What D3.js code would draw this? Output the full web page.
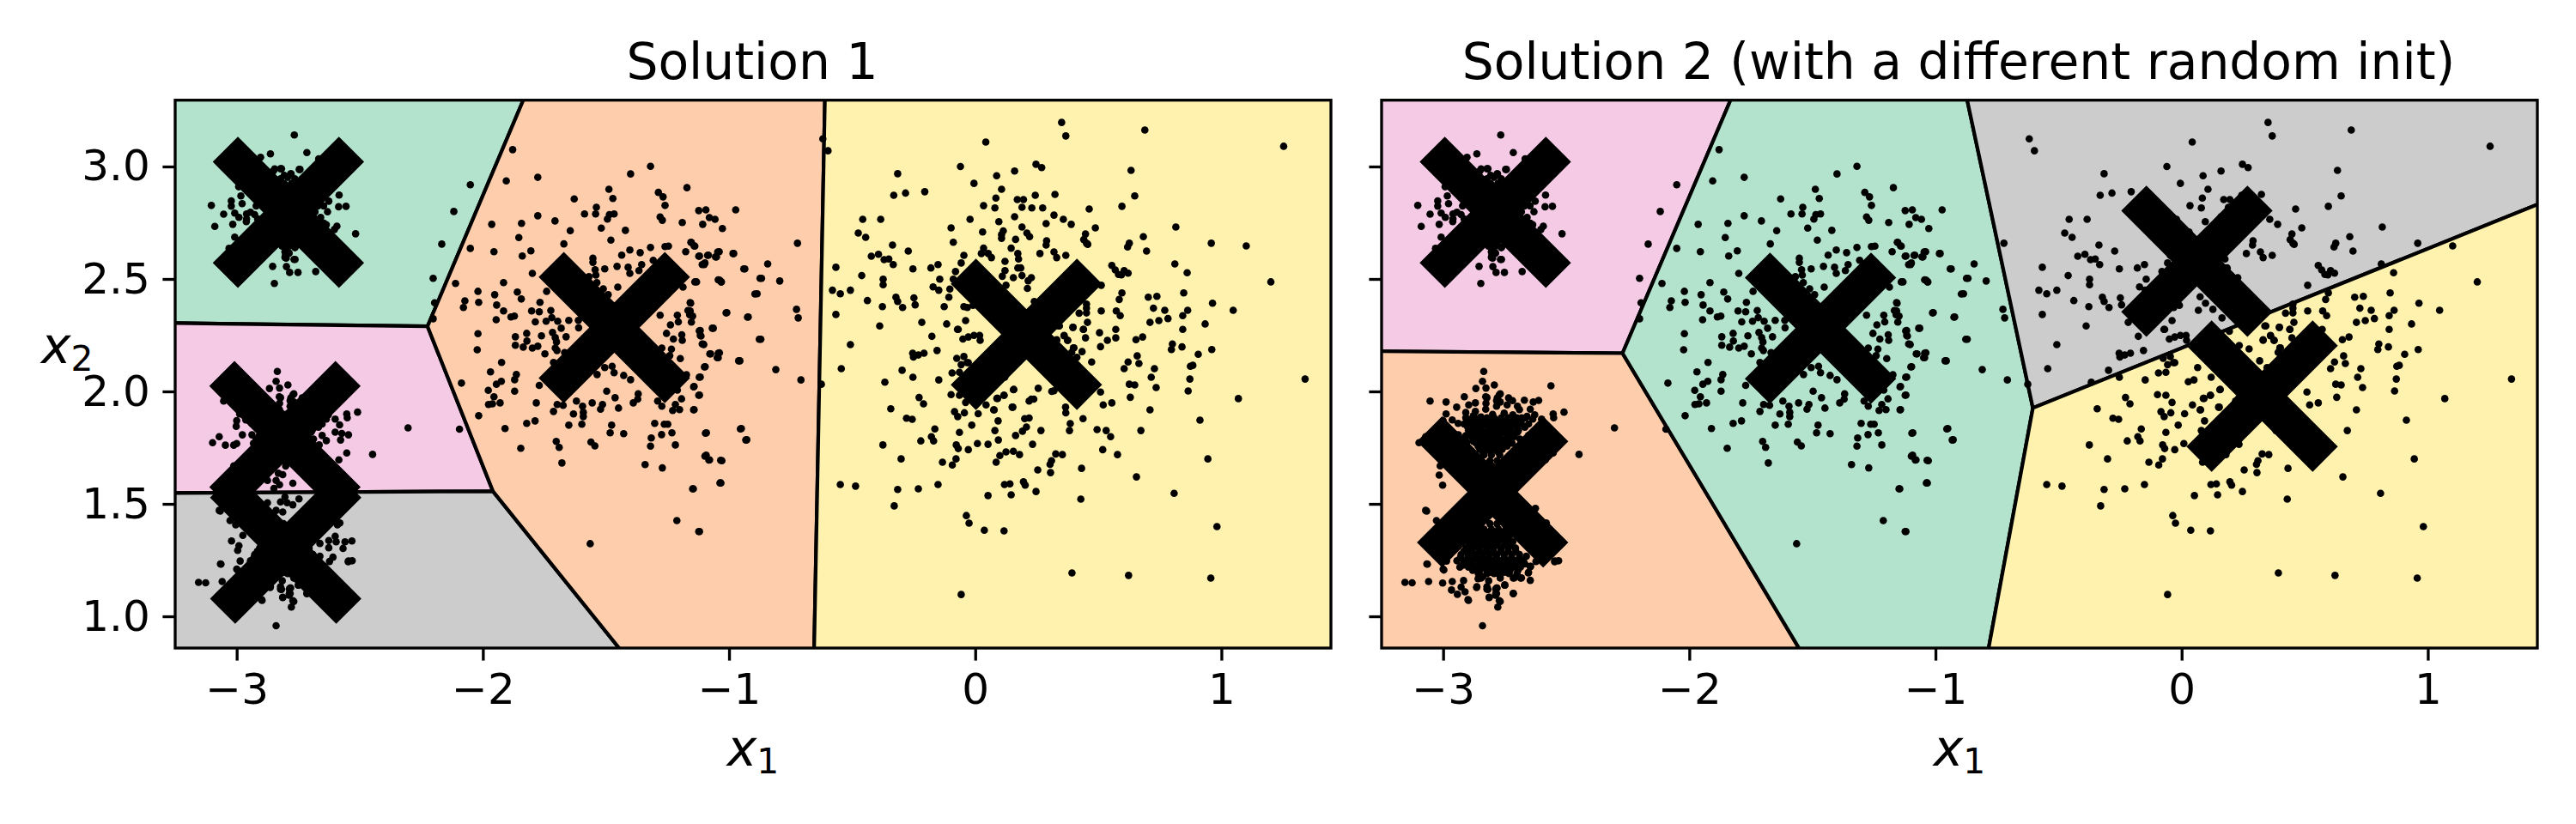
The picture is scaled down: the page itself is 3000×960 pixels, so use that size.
<!DOCTYPE html>
<html><head><meta charset="utf-8">
<script src="https://cdn.jsdelivr.net/npm/d3@7"></script>
<style>html,body{margin:0;padding:0;background:#fff}svg{display:block}text{font-family:"DejaVu Sans";fill:#000}</style>
</head><body><svg id="c" width="3000" height="960"></svg>
<script>
const xDomain=[-3.25,1.445], yDomain=[0.859,3.295];
const xTicks=[-3,-2,-1,0,1], yTicks=[1,1.5,2,2.5,3];
const titles=["Solution 1","Solution 2 (with a different random init)"];
const pastel=["#b3e2cd","#fdcdac","#f4cae4","#cccccc","#fff2ae"];
const centroids1=[[-2.790,2.796],[-2.804,1.799],[-2.801,1.303],[-1.466,2.284],[0.208,2.254]];
const colors1=[0,2,3,1,4];
const centroids2=[[-2.788,2.796],[-2.799,1.553],[-1.467,2.281],[0.062,2.579],[0.327,1.979]];
const colors2=[2,1,0,3,4];

const clusterRight=[[.351,3.196],[.368,3.136],[.689,3.162],[1.253,3.090],[.043,3.109],[-.060,3.000],[-.315,2.968],[.087,2.959],[.160,2.980],[.247,3.010],[.270,2.995],[.633,2.983],[-.005,2.925],[.107,2.899],[-.331,2.872],[-.283,2.882],[-.205,2.888],[.084,2.860],[.171,2.853],[.196,2.853],[.244,2.872],[.324,2.876],[.648,2.869],[.034,2.826],[.080,2.816],[.190,2.819],[.230,2.816],[.274,2.816],[.463,2.811],[.596,2.823],[-.457,2.765],[-.384,2.765],[-.021,2.765],[.096,2.755],[.160,2.777],[.288,2.746],[.320,2.784],[.358,2.765],[.390,2.743],[.488,2.727],[-.098,2.727],[.190,2.731],[.815,2.731],[-.475,2.704],[-.445,2.685],[.030,2.709],[.114,2.714],[.107,2.697],[.107,2.681],[.221,2.688],[.210,2.704],[.448,2.700],[.683,2.688],[-.089,2.663],[.164,2.676],[.441,2.675],[.457,2.654],[.290,2.670],[.288,2.651],[.452,2.659],[.626,2.659],[.619,2.642],[.959,2.659],[1.101,2.647],[-.336,2.651],[-.272,2.624],[.146,2.637],[.034,2.637],[.025,2.613],[.053,2.613],[.066,2.595],[.173,2.613],[.176,2.589],[.263,2.613],[.320,2.620],[.331,2.595],[.368,2.605],[.696,2.624],[-.422,2.601],[-.393,2.610],[-.370,2.586],[-.351,2.589],[-.333,2.564],[-.046,2.605],[-.057,2.571],[.121,2.578],[.185,2.549],[.173,2.549],[.555,2.560],[.569,2.540],[.582,2.520],[.605,2.537],[.594,2.518],[.621,2.526],[.811,2.567],[.861,2.528],[-.566,2.552],[-.253,2.545],[-.180,2.549],[-.151,2.564],[-.080,2.533],[.121,2.537],[.190,2.515],[.228,2.506],[.215,2.492],[.212,2.458],[.110,2.512],[.155,2.506],[-.461,2.515],[-.374,2.499],[-.374,2.474],[-.144,2.499],[-.089,2.499],[.512,2.472],[1.201,2.487],[-.171,2.465],[-.148,2.450],[-.103,2.455],[-.580,2.450],[-.548,2.434],[-.507,2.450],[.125,2.472],[.596,2.438],[.703,2.419],[.738,2.423],[.847,2.438],[-.322,2.419],[-.315,2.400],[-.249,2.416],[-.244,2.385],[-.438,2.404],[-.107,2.419],[.585,2.409],[.964,2.392],[.240,2.400],[-.377,2.377],[-.295,2.373],[-.126,2.377],[-.046,2.377],[-.032,2.373],[-.009,2.383],[.452,2.388],[.452,2.370],[.452,2.349],[.422,2.348],[.512,2.358],[.573,2.358],[.589,2.337],[.724,2.370],[.770,2.361],[.863,2.361],[.843,2.337],[1.048,2.361],[-.566,2.342],[.746,2.315],[.783,2.324],[.710,2.307],[-.217,2.307],[-.116,2.300],[-.039,2.315],[-.388,2.291],[-.069,2.276],[.456,2.307],[.934,2.300],[.843,2.276],[.440,2.276],[.397,2.285],[.338,2.291],[.571,2.276],[.505,2.261],[-.176,2.245],[-.050,2.233],[-.028,2.242],[-.005,2.249],[.018,2.249],[.020,2.227],[.448,2.238],[.571,2.238],[.537,2.227],[.653,2.230],[.680,2.242],[.331,2.230],[.361,2.249],[.375,2.227],[-.507,2.208],[.801,2.211],[.797,2.186],[.840,2.198],[.509,2.199],[.399,2.194],[.961,2.186],[.434,2.177],[.906,2.165],[-.254,2.170],[-.251,2.153],[-.231,2.162],[-.208,2.170],[-.155,2.182],[-.075,2.147],[-.046,2.155],[-.028,2.128],[-.057,2.119],[.413,2.152],[.658,2.158],[.621,2.131],[.665,2.124],[.473,2.131],[-.544,2.101],[-.297,2.094],[-.094,2.082],[-.064,2.085],[.605,2.101],[.728,2.101],[.884,2.116],[.874,2.112],[-.253,2.063],[-.148,2.051],[.715,2.063],[.872,2.055],[1.340,2.055],[-.367,2.041],[-.625,2.032],[.626,2.032],[.648,2.029],[.735,2.017],[.157,2.009],[-.098,1.986],[-.064,1.983],[.117,1.983],[.256,2.014],[.311,2.000],[.320,2.003],[.509,1.997],[.865,2.002],[.630,1.974],[-.228,1.973],[-.039,1.951],[.091,1.969],[.219,1.957],[.228,1.966],[.238,1.966],[.044,1.940],[-.210,1.945],[.520,1.940],[.555,1.949],[1.069,1.968],[.367,1.930],[.368,1.905],[.153,1.930],[.077,1.918],[-.343,1.923],[.710,1.918],[-.084,1.910],[-.044,1.905],[-.071,1.888],[.012,1.901],[-.279,1.881],[-.256,1.876],[.219,1.882],[.201,1.879],[.438,1.879],[.093,1.869],[.913,1.872],[.386,1.857],[-.014,1.850],[.208,1.842],[-.164,1.833],[.080,1.826],[.267,1.826],[.192,1.823],[.383,1.826],[.495,1.830],[.532,1.826],[.673,1.826],[-.064,1.818],[.164,1.804],[.550,1.799],[-.221,1.780],[-.178,1.799],[-.169,1.780],[.094,1.784],[-.375,1.762],[-.077,1.762],[-.069,1.746],[-.028,1.741],[.009,1.768],[.052,1.765],[.233,1.765],[.518,1.741],[.578,1.719],[.125,1.731],[.155,1.734],[.180,1.719],[.100,1.715],[.327,1.722],[.354,1.719],[-.301,1.700],[-.133,1.685],[-.093,1.673],[-.078,1.700],[.085,1.685],[.310,1.692],[.304,1.676],[.945,1.700],[.254,1.651],[.306,1.639],[.432,1.658],[.655,1.620],[-.548,1.586],[-.486,1.579],[-.315,1.564],[-.231,1.567],[-.151,1.586],[.119,1.586],[.141,1.589],[.196,1.598],[.203,1.583],[.247,1.555],[.808,1.547],[.052,1.537],[.146,1.540],[.429,1.521],[-.329,1.491],[-.036,1.448],[-.025,1.414],[.037,1.383],[.117,1.380],[.982,1.399],[.393,1.193],[.623,1.182],[.957,1.170],[-.057,1.097],[-.619,3.123],[-.598,3.070],
[.194,2.267],[.342,2.291],[.397,2.285],[.439,2.276],[.331,2.227],[.361,2.247],[.376,2.227],[.401,2.194],[.392,2.174],[.274,2.189],[.234,2.204],[.317,2.136],[.347,2.106],[.120,2.063],[.155,2.008],[.150,1.93],[.088,1.969],[.117,1.983],[.075,1.918],[.065,2.106],[.050,2.051],[.027,2.043],[-.033,2.128],[.075,2.421],[.097,2.392],[.127,2.365],[.068,2.361],[.164,2.327],[-.072,2.276]];

const clusterMiddle=[[-1.171,2.906],[-1.123,2.804],[-1.094,2.807],[-.973,2.807],[-1.080,2.773],[-1.057,2.765],[-1.107,2.743],[-1.027,2.724],[-.722,2.659],[-1.155,2.663],[-1.142,2.647],[-.984,2.613],[-1.123,2.601],[-1.087,2.605],[-1.046,2.620],[-1.055,2.598],[-1.098,2.571],[-1.109,2.564],[-.843,2.567],[-.940,2.545],[-.874,2.503],[-.794,2.491],[-1.139,2.487],[-1.044,2.496],[-1.032,2.487],[-.895,2.433],[-1.158,2.395],[-.726,2.365],[-.719,2.327],[-1.012,2.349],[-.925,2.330],[-1.158,2.358],[-1.160,2.341],[-1.153,2.308],[-1.068,2.281],[-1.121,2.269],[-1.117,2.249],[-.877,2.232],[-1.109,2.211],[-1.103,2.208],[-1.078,2.167],[-1.044,2.170],[-1.048,2.150],[-.961,2.136],[-1.100,2.109],[-.810,2.097],[-1.121,2.063],[-.708,2.051],[-1.144,2.020],[-1.123,1.983],[-1.144,1.918],[-.954,1.833],[-1.096,1.814],[-.932,1.784],[-1.098,1.712],[-1.082,1.695],[-1.034,1.694],[-1.037,1.593],[-1.148,1.567],[-1.123,1.377],
[-1.879,3.075],[-1.905,2.936],[-1.777,2.952],[-1.319,3.001],[-1.400,2.967],[-1.488,2.899],[-1.629,2.856],[-1.472,2.858],[-1.287,2.885],[-1.268,2.865],[-1.260,2.827],[-1.539,2.819],[-1.587,2.789],[-1.542,2.789],[-1.467,2.789],[-1.486,2.786],[-1.494,2.766],[-1.777,2.781],[-1.964,2.743],[-1.843,2.747],[-1.707,2.758],[-1.280,2.776],[-1.271,2.761],[-1.190,2.751],[-1.519,2.726],[-1.645,2.715],[-1.421,2.716],[-1.854,2.684],[-1.480,2.673],[-1.671,2.656],[-1.153,2.662],[-1.139,2.646],[-2.051,2.636],[-1.955,2.621],[-1.805,2.625],[-1.840,2.602],[-1.436,2.606],[-1.403,2.629],[-1.361,2.617],[-1.319,2.640],[-1.260,2.644],[-1.246,2.646],[-1.176,2.621],[-1.120,2.602],[-1.084,2.606],[-1.040,2.621],[-1.051,2.598],[-.981,2.613],[-1.553,2.592],[-1.553,2.574],[-1.544,2.541],[-1.505,2.545],[-1.455,2.556],[-1.410,2.552],[-1.403,2.525],[-1.366,2.537],[-1.355,2.564],[-1.308,2.583],[-1.101,2.564],[-.936,2.545],[-.868,2.503],[-1.799,2.525],[-1.569,2.510],[-1.541,2.517],[-1.537,2.484],[-1.132,2.487],[-1.039,2.495],[-1.031,2.487],[-1.916,2.484],[-2.111,2.480],[-2.020,2.445],[-1.860,2.442],[-1.952,2.430],[-1.844,2.411],[-1.741,2.445],[-1.452,2.464],[-1.511,2.456],[-1.491,2.430],[-1.187,2.464],[-.886,2.434],[-2.073,2.403],[-2.017,2.396],[-2.079,2.373],[-1.944,2.384],[-1.768,2.396],[-1.156,2.392],[-1.167,2.360],[-1.148,2.335],[-1.916,2.358],[-1.886,2.331],[-1.872,2.335],[-1.802,2.358],[-1.771,2.354],[-1.724,2.360],[-1.946,2.319],[-1.009,2.350],[-.922,2.331],[-1.787,2.309],[-1.743,2.312],[-1.720,2.328],[-1.696,2.312],[-1.651,2.316],[-1.612,2.316],[-1.280,2.339],[-1.210,2.339],[-1.238,2.296],[-1.206,2.309],[-1.682,2.281],[-1.611,2.283],[-1.254,2.258],[-1.064,2.281],[-1.117,2.271],[-1.114,2.246],[-2.020,2.257],[-1.822,2.258],[-1.762,2.247],[-1.717,2.262],[-1.662,2.243],[-1.706,2.239],[-1.701,2.220],[-1.868,2.243],[-1.226,2.233],[-1.192,2.252],[-1.190,2.227],[-.871,2.232],[-1.868,2.205],[-1.821,2.224],[-1.836,2.197],[-1.799,2.193],[-1.777,2.201],[-1.706,2.193],[-1.699,2.182],[-2.023,2.185],[-1.748,2.167],[-1.668,2.173],[-1.273,2.193],[-1.234,2.188],[-1.104,2.210],[-1.075,2.167],[-1.039,2.172],[-1.044,2.150],[-1.241,2.159],[-1.198,2.146],[-.956,2.136],[-1.924,2.129],[-1.713,2.129],[-1.097,2.110],[-1.969,2.087],[-1.505,2.106],[-1.475,2.112],[-1.467,2.083],[-1.428,2.071],[-1.400,2.052],[-1.536,2.075],[-1.864,2.075],[-1.871,2.052],[-1.925,2.045],[-1.945,2.032],[-2.087,2.037],[-1.117,2.064],[-1.173,2.074],[-1.771,2.027],[-1.142,2.022],[-1.978,2.005],[-1.871,2.001],[-1.497,2.001],[-1.210,2.006],[-1.120,1.984],[-1.955,1.976],[-1.977,1.942],[-1.961,1.945],[-1.930,1.949],[-1.369,1.989],[-1.371,1.966],[-1.463,1.972],[-1.620,1.957],[-1.389,1.949],[-1.290,1.957],[-1.193,1.967],[-1.783,1.949],[-1.698,1.942],[-1.674,1.938],[-1.595,1.934],[-1.556,1.949],[-1.514,1.942],[-1.522,1.921],[-1.449,1.926],[-1.273,1.934],[-1.218,1.942],[-1.713,1.911],[-1.632,1.900],[-1.592,1.907],[-1.592,1.888],[-1.229,1.915],[-1.201,1.919],[-1.142,1.919],[-2.017,1.892],[-1.910,1.835],[-1.822,1.858],[-1.788,1.869],[-1.651,1.850],[-1.598,1.854],[-1.477,1.850],[-1.302,1.858],[-1.263,1.854],[-1.249,1.854],[-1.483,1.816],[-1.428,1.812],[-1.274,1.808],[-1.232,1.816],[-1.092,1.816],[-.950,1.835],[-.928,1.785],[-1.702,1.778],[-1.690,1.751],[-1.561,1.775],[-1.545,1.758],[-1.846,1.747],[-1.316,1.793],[-1.319,1.757],[-1.218,1.762],[-1.093,1.717],[-1.079,1.696],[-1.029,1.692],[-1.679,1.682],[-1.341,1.675],[-1.271,1.660],[-1.145,1.567],[-1.033,1.593],[-1.212,1.426],[-1.120,1.377],[-1.564,1.323],
[-2.051,2.919],[-2.118,2.800],[-2.167,2.655],[-2.202,2.503],[-2.196,2.394],[-2.202,2.323],[-2.304,1.838],[-2.095,1.832]];

const blobTop=[[-2.766,3.140],[-2.863,3.056],[-2.715,3.062],[-2.903,3.041],[-2.667,3.034],[-2.846,2.989],[-2.818,2.990],[-2.743,2.987],[-2.779,2.967],[-2.807,2.961],[-2.992,2.910],[-2.584,2.873],[-2.983,2.869],[-3.103,2.827],[-3.022,2.847],[-3.022,2.824],[-2.978,2.835],[-2.626,2.846],[-2.586,2.821],[-2.556,2.823],[-2.631,2.799],[-3.053,2.788],[-3.008,2.793],[-2.960,2.789],[-2.927,2.786],[-2.991,2.774],[-2.960,2.767],[-3.089,2.734],[-3.016,2.743],[-2.646,2.748],[-2.636,2.741],[-2.593,2.735],[-2.603,2.720],[-2.517,2.701],[-3.008,2.686],[-3.031,2.636],[-2.799,2.640],[-2.763,2.640],[-2.802,2.608],[-2.799,2.593],[-2.763,2.587],[-2.854,2.556],[-2.798,2.555],[-2.785,2.529],[-2.751,2.529],[-2.679,2.533],[-2.847,2.480],
[-2.822,2.945],[-2.793,2.952],[-2.764,2.945],[-2.807,2.924],[-2.778,2.924],[-2.793,2.904],[-2.851,2.980],[-2.822,2.990],[-2.781,2.967],[-2.746,2.987],[-2.921,2.825],[-2.915,2.767],[-2.944,2.797],[-2.961,2.755],[-2.682,2.799],[-2.670,2.825],[-2.659,2.774],[-2.688,2.774],[-2.694,2.825],[-2.647,2.825],[-2.676,2.850],[-2.816,2.646],[-2.787,2.646],[-2.764,2.640],[-2.804,2.666],[-2.778,2.666],[-2.793,2.685],[-2.804,2.621],[-2.787,2.615],[-2.804,2.596],[-2.767,2.587]];

const blobMiddle=[[-2.835,2.089],[-2.840,2.045],[-2.867,2.013],[-2.826,2.015],[-2.792,2.029],[-2.772,1.985],[-3.053,1.957],[-2.783,1.959],[-2.822,1.972],[-2.509,1.908],[-2.553,1.900],[-2.600,1.877],[-3.000,1.870],[-3.002,1.845],[-2.582,1.851],[-2.600,1.819],[-2.573,1.813],[-2.546,1.807],[-2.578,1.784],[-3.071,1.799],[-3.098,1.772],[-3.046,1.761],[-3.012,1.761],[-3.000,1.768],[-2.977,1.807],[-2.448,1.720],[-2.553,1.726],[-2.585,1.696],[-2.562,2.025],[-2.551,1.883],
[-2.914,1.976],[-2.988,1.953],[-2.945,1.930],[-2.896,1.940],[-2.869,1.949],[-2.827,1.976],[-2.826,1.947],[-2.780,1.971],[-2.768,1.989],[-2.734,1.971],[-2.718,1.959],[-2.670,1.961],[-2.612,1.960],[-2.634,1.953],[-2.740,1.940],[-2.698,1.934],[-2.690,1.919],[-2.646,1.921],[-2.717,1.896],[-2.628,1.896],[-2.659,1.889],[-2.681,1.883],[-2.988,1.900],[-2.963,1.873],[-2.908,1.906],[-2.869,1.911],[-2.827,1.921],[-2.768,1.953],[-2.783,1.934],[-2.702,1.858],[-2.636,1.877],[-2.900,1.858],[-2.861,1.870],[-2.815,1.870],[-2.768,1.870],[-2.908,1.883],[-2.815,1.845],[-2.737,1.819],
[-2.877,1.892],[-2.846,1.886],[-2.799,1.898],[-2.752,1.904],[-2.737,1.870],[-2.877,1.841],[-2.830,1.816],[-2.783,1.790],[-2.768,1.816],[-2.877,1.778],[-2.908,1.803],[-2.815,1.765],[-2.737,1.845],[-2.698,1.819],[-2.846,1.765],[-2.908,1.765],[-2.939,1.858],[-2.72,1.77],[-2.79,1.84],[-2.85,1.80],
[-2.831,1.636],[-2.813,1.630],[-2.840,1.604],[-2.826,1.585],[-2.772,1.592],[-2.875,1.604],[-2.849,1.569],[-2.801,1.668],
[-2.907,1.883],[-2.880,1.883],[-2.851,1.883],[-2.822,1.883],[-2.793,1.883],[-2.764,1.883],[-2.735,1.883],[-2.700,1.883],[-2.665,1.883],
[-2.915,1.855],[-2.886,1.855],[-2.857,1.855],[-2.830,1.855],[-2.802,1.855],[-2.772,1.855],[-2.744,1.855],[-2.717,1.855],[-2.682,1.855],[-2.653,1.855],
[-2.897,1.827],[-2.868,1.827],[-2.842,1.827],[-2.814,1.827],[-2.783,1.827],[-2.756,1.827],[-2.725,1.827],[-2.694,1.827],
[-2.884,1.799],[-2.857,1.799],[-2.828,1.799],[-2.799,1.799],[-2.770,1.799],[-2.737,1.799],[-2.711,1.799],
[-2.868,1.771],[-2.839,1.771],[-2.810,1.771],[-2.779,1.771],[-2.749,1.771],[-2.723,1.771],
[-2.851,1.743],[-2.822,1.743],[-2.790,1.743],[-2.760,1.743],[-2.834,1.718],[-2.804,1.718],[-2.770,1.718],[-2.810,1.692],[-2.781,1.692],
[-2.938,1.807],[-2.921,1.788],[-2.903,1.775],[-2.932,1.769],[-2.653,1.804],[-2.636,1.781],[-2.665,1.762],[-2.688,1.788],[-2.682,1.756],
[-2.893,1.869],[-2.866,1.869],[-2.836,1.869],[-2.808,1.869],[-2.778,1.869],[-2.750,1.869],[-2.718,1.869],[-2.683,1.869],
[-2.900,1.841],[-2.872,1.841],[-2.844,1.841],[-2.816,1.841],[-2.787,1.841],[-2.758,1.841],[-2.730,1.841],[-2.700,1.841],[-2.668,1.841],
[-2.890,1.813],[-2.862,1.813],[-2.835,1.813],[-2.806,1.813],[-2.776,1.813],[-2.746,1.813],[-2.715,1.813],
[-2.875,1.785],[-2.848,1.785],[-2.820,1.785],[-2.790,1.785],[-2.760,1.785],[-2.730,1.785],
[-2.858,1.757],[-2.830,1.757],[-2.800,1.757],[-2.770,1.757],[-2.740,1.757],[-2.838,1.730],[-2.806,1.730],[-2.776,1.730]];

const blobBottom=[[-2.875,1.505],[-2.822,1.509],[-2.795,1.505],[-2.747,1.522],[-2.772,1.496],[-2.804,1.531],[-2.813,1.464],[-2.840,1.471],
[-3.071,1.471],[-3.027,1.426],[-3.004,1.407],[-2.975,1.360],[-3.021,1.335],[-2.991,1.314],[-2.996,1.293],[-2.986,1.246],[-3.066,1.233],[-3.000,1.210],[-3.059,1.155],[-3.155,1.151],[-3.126,1.149],[-2.899,1.074],[-2.822,1.121],[-2.786,1.121],[-2.786,1.102],[-2.813,1.085],[-2.772,1.070],[-2.778,1.041],[-2.840,.958],[-2.591,1.407],[-2.600,1.356],[-2.596,1.331],[-2.532,1.335],[-2.560,1.331],[-2.662,1.324],[-2.626,1.337],[-2.626,1.305],[-2.568,1.302],[-2.662,1.267],[-2.609,1.263],[-2.623,1.244],[-2.546,1.246],[-2.715,1.102],
[-3.067,1.468],[-3.016,1.628],[-3.002,1.583],[-3.012,1.669],[-3.064,1.232],[-2.997,1.206],[-3.002,1.148],[-2.963,1.155],[-2.917,1.159],[-2.966,1.117],[-2.942,1.098],[-2.911,1.109],[-2.927,1.130],[-2.897,1.071],[-2.864,1.128],[-2.858,1.167],[-2.822,1.132],[-2.813,1.083],[-2.787,1.094],[-2.783,1.126],[-2.768,1.066],[-2.715,1.101],[-2.749,1.139],[-2.715,1.170],[-2.685,1.170],[-2.646,1.160],[-2.654,1.193],[-2.646,1.221],[-2.547,1.243],[-2.531,1.247],[-2.625,1.480],[-2.581,1.415],[-2.877,1.209],[-2.815,1.196],[-2.768,1.170],[-2.737,1.209],[-2.921,1.228],[-2.885,1.247],[-2.690,1.247],[-2.815,1.158],[-2.846,1.170],
[-2.810,1.412],[-2.781,1.412],[-2.834,1.387],[-2.804,1.387],[-2.775,1.387],[-2.746,1.387],
[-2.863,1.359],[-2.837,1.359],[-2.810,1.359],[-2.783,1.359],[-2.756,1.359],[-2.729,1.359],
[-2.886,1.331],[-2.860,1.331],[-2.832,1.331],[-2.804,1.331],[-2.777,1.331],[-2.746,1.331],[-2.717,1.331],
[-2.907,1.303],[-2.880,1.303],[-2.851,1.303],[-2.822,1.303],[-2.795,1.303],[-2.764,1.303],[-2.735,1.303],[-2.706,1.303],
[-2.927,1.275],[-2.897,1.275],[-2.868,1.275],[-2.839,1.275],[-2.810,1.275],[-2.781,1.275],[-2.752,1.275],[-2.721,1.275],[-2.690,1.275],
[-2.944,1.247],[-2.915,1.247],[-2.886,1.247],[-2.857,1.247],[-2.828,1.247],[-2.799,1.247],[-2.767,1.247],[-2.737,1.247],[-2.706,1.247],[-2.674,1.247],
[-2.932,1.219],[-2.897,1.219],[-2.868,1.219],[-2.839,1.219],[-2.807,1.219],[-2.775,1.219],[-2.746,1.219],[-2.717,1.219],[-2.686,1.219],
[-2.857,1.190],[-2.822,1.190],[-2.793,1.190],[-2.764,1.190],[-2.732,1.190],[-2.700,1.190],
[-2.917,1.228],[-2.882,1.215],[-2.839,1.177],[-2.804,1.196],[-2.775,1.190],[-2.746,1.196],[-2.711,1.171],[-2.682,1.171],[-2.653,1.196],[-2.645,1.222],[-2.781,1.126],[-2.783,1.101],[-2.750,1.139],[-2.818,1.120],[-2.863,1.132],
[-2.850,1.373],[-2.822,1.373],[-2.792,1.373],[-2.762,1.373],[-2.738,1.373],
[-2.875,1.345],[-2.848,1.345],[-2.820,1.345],[-2.794,1.345],[-2.766,1.345],[-2.738,1.345],
[-2.895,1.317],[-2.866,1.317],[-2.838,1.317],[-2.810,1.317],[-2.782,1.317],[-2.752,1.317],[-2.722,1.317],
[-2.916,1.289],[-2.884,1.289],[-2.854,1.289],[-2.825,1.289],[-2.796,1.289],[-2.766,1.289],[-2.736,1.289],[-2.705,1.289],
[-2.930,1.261],[-2.900,1.261],[-2.872,1.261],[-2.843,1.261],[-2.814,1.261],[-2.784,1.261],[-2.752,1.261],[-2.722,1.261],[-2.690,1.261],
[-2.910,1.233],[-2.882,1.233],[-2.852,1.233],[-2.822,1.233],[-2.790,1.233],[-2.760,1.233],[-2.730,1.233],[-2.700,1.233],[-2.668,1.233],
[-2.880,1.205],[-2.850,1.205],[-2.822,1.205],[-2.790,1.205],[-2.760,1.205],[-2.728,1.205],[-2.696,1.205]];

const svg=d3.select("#c");
const allPoints=[...clusterRight,...clusterMiddle,...blobTop,...blobMiddle,...blobBottom];
const panels=[
 {left:204,right:1550,title:titles[0],centroids:centroids1,colors:colors1,yLabels:true},
 {left:1609,right:2955,title:titles[1],centroids:centroids2,colors:colors2,yLabels:false}];
const plotTop=116.7,plotBottom=755;
const lw=3.33;

function mathLabel(g,x,y,sub,anchor){
  const t=g.append("text").attr("x",x).attr("y",y).attr("font-size",58.3).attr("text-anchor",anchor);
  t.append("tspan").attr("font-style","italic").text("x");
  t.append("tspan").attr("font-size",40.8).attr("dy",8.5).text(sub);
  return t;
}

panels.forEach((p,i)=>{
  const x=d3.scaleLinear().domain(xDomain).range([p.left,p.right]);
  const y=d3.scaleLinear().domain(yDomain).range([plotBottom,plotTop]);
  const g=svg.append("g");
  const clipId="clip"+i;
  g.append("clipPath").attr("id",clipId).append("rect")
    .attr("x",p.left).attr("y",plotTop).attr("width",p.right-p.left).attr("height",plotBottom-plotTop);
  const plot=g.append("g").attr("clip-path",`url(#${clipId})`);
  const vor=d3.Delaunay.from(p.centroids).voronoi([xDomain[0]-.2,yDomain[0]-.2,xDomain[1]+.2,yDomain[1]+.2]);
  const line=d3.line().x(d=>x(d[0])).y(d=>y(d[1]));
  p.centroids.forEach((c,k)=>{
    plot.append("path").attr("d",line(vor.cellPolygon(k))+"Z")
      .attr("fill",pastel[p.colors[k]]).attr("stroke","#000").attr("stroke-width",4.2).attr("stroke-linejoin","miter");
  });
  plot.append("g").selectAll("circle").data(allPoints).join("circle")
    .attr("cx",d=>x(d[0])).attr("cy",d=>y(d[1])).attr("r",4.3).attr("fill","#000");
  const h=73.5;
  const marks=plot.append("g").selectAll("g").data(p.centroids).join("g")
    .attr("transform",d=>`translate(${x(d[0])},${y(d[1])})`);
  marks.append("path").attr("d",`M${-h},${-h}L${h},${h}M${-h},${h}L${h},${-h}`)
    .attr("stroke","#000").attr("stroke-width",41.5).attr("fill","none");

  const axB=d3.axisBottom(x).tickValues(xTicks).tickSize(14.6).tickPadding(14.6).tickFormat(d=>String(d).replace("-","\u2212"));
  const axL=d3.axisLeft(y).tickValues(yTicks).tickSize(14.6).tickPadding(14.6).tickFormat(p.yLabels?d3.format(".1f"):()=>"");
  const gb=g.append("g").attr("transform",`translate(0,${plotBottom})`).call(axB);
  const gl=g.append("g").attr("transform",`translate(${p.left},0)`).call(axL);
  [gb,gl].forEach(a=>{
    a.select(".domain").remove();
    a.selectAll("line").attr("stroke","#000").attr("stroke-width",lw);
    a.selectAll("text").attr("font-size",50).attr("font-family","DejaVu Sans").attr("fill","#000");
  });
  g.append("rect").attr("x",p.left).attr("y",plotTop).attr("width",p.right-p.left).attr("height",plotBottom-plotTop)
    .attr("fill","none").attr("stroke","#000").attr("stroke-width",lw);
  g.append("text").attr("x",(p.left+p.right)/2-1).attr("y",92).attr("text-anchor","middle").attr("font-size",58.3).text(p.title);
  mathLabel(g,(p.left+p.right)/2,892,"1","middle");
  if(p.yLabels) mathLabel(g,48,423,"2","start");
});
</script></body></html>
